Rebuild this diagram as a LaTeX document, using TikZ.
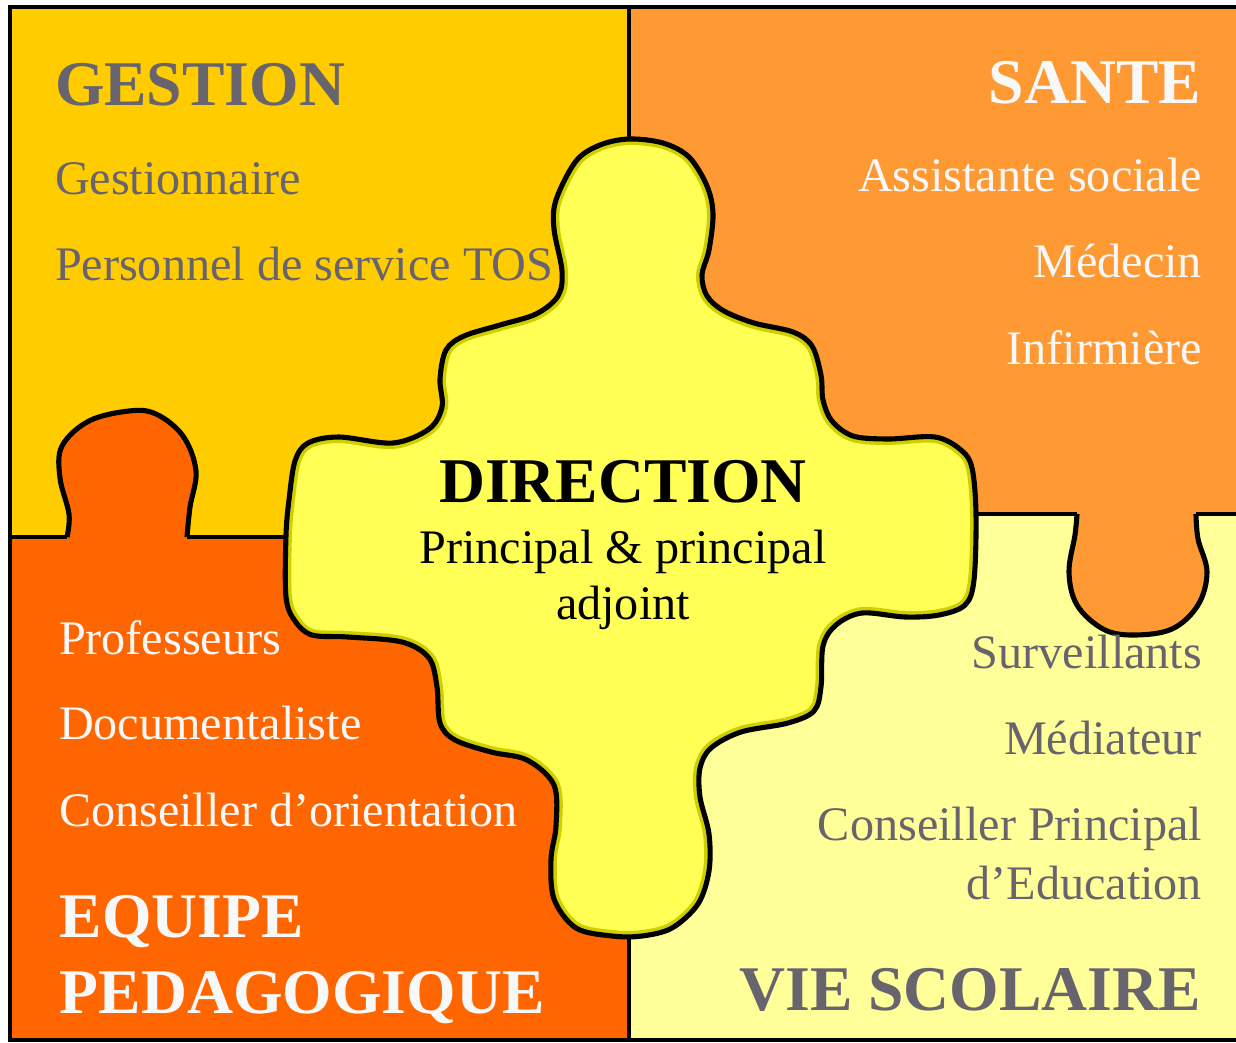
\documentclass[tikz,border=0pt]{standalone}
\usepackage{fontspec}
\setmainfont{Liberation Serif}
\definecolor{gestcol}{HTML}{FFCC00}
\definecolor{santecol}{HTML}{FF9933}
\definecolor{pedacol}{HTML}{FF6600}
\definecolor{viecol}{HTML}{FFFF99}
\definecolor{dircol}{HTML}{FFFF55}
\definecolor{dirshade}{HTML}{CFCF00}
\definecolor{greytext}{HTML}{67646E}
\definecolor{whitetext}{HTML}{F8F8F8}

\begin{document}
\begin{tikzpicture}
          [x=0.01cm,y=-0.01cm,every node/.style={inner sep=0pt,outer sep=0pt},
           title/.style={font=\fontsize{18.1}{20}\selectfont\bfseries},
           item/.style={font=\fontsize{13.7}{15}\selectfont},
           edge/.style={line width=1pt},
           piece/.style={line width=1.45pt}]

          \useasboundingbox (0,0) rectangle (1236,1042);
          \clip (0,0) rectangle (1236,1042);

          \fill[gestcol] (10,7) rectangle (629,537);
          \fill[santecol] (629,7) rectangle (1250,514);
          \fill[pedacol] (10,537) rectangle (629,1040);
          \fill[viecol] (629,514) rectangle (1250,1040);

          \filldraw[fill=pedacol,draw=black,piece] plot[smooth,tension=0.6] coordinates
            {(67,537) (69,514) (60,478) (62,446) (89,421) (129,411) (156,414) (183,436) (196,471) (190,507) (187,537)};
          \filldraw[fill=santecol,draw=black,piece] plot[smooth,tension=0.6] coordinates
            {(1077,514) (1075,535) (1069,572) (1077,605) (1103,629) (1133,635) (1172,629) (1198,605) (1207,572) (1198,539) (1196,514)};

          \draw[edge] (1250,7) -- (10,7) -- (10,1040) -- (1250,1040);
          \draw[edge] (629,7) -- (629,139);
          \draw[edge] (629,938) -- (629,1040);
          \draw[edge] (10,537) -- (67,537);
          \draw[edge] (187,537) -- (287,537);
          \draw[edge] (976,514) -- (1077,514);
          \draw[edge] (1196,514) -- (1250,514);

          \path[save path=\dirpath] plot[smooth cycle,tension=0.55] coordinates
            {(629,139) (663,143) (689,157) (707,186) (713,214) (709,250) (702,275) (707,296) (724,311)
             (754,323) (793,332) (812,346) (821,375) (823,400) (832,421) (853,436) (888,439) (935,437)
             (961,450) (972,468) (976,514) (974,580) (965,605) (939,615) (905,617) (862,613) (836,625)
             (823,646) (821,687) (814,711) (788,723) (741,732) (711,748) (700,768) (700,797) (709,834)
             (709,871) (698,904) (672,928) (642,936) (612,936) (576,928) (554,899) (551,859) (556,826)
             (554,785) (527,760) (491,752) (455,740) (440,723) (437,687) (429,658) (402,642) (348,637)
             (312,635) (295,621) (286,597) (286,535) (289,500) (295,461) (308,443) (339,437) (393,443)
             (429,429) (442,407) (440,379) (446,350) (464,336) (500,325) (536,314) (558,296) (562,271)
             (554,229) (556,200) (576,161) (600,145)};
          \fill[dircol,use path=\dirpath];
          \begin{scope}
            \clip[use path=\dirpath];
            \draw[dirshade,line width=3.4pt,use path=\dirpath];
          \end{scope}
          \draw[piece,use path=\dirpath];

          \node[title,text=greytext,anchor=base west] (gestion) at (55,105) {GESTION};
          \node[item,text=greytext,anchor=base west] (gestionnaire) at (55,194) {Gestionnaire};
          \node[item,text=greytext,anchor=base west] (tos) at (55,280) {Personnel de service TOS};

          \node[title,text=whitetext,anchor=base east] (sante) at (1201,103) {SANTE};
          \node[item,text=whitetext,anchor=base east] (assistante) at (1202,191) {Assistante sociale};
          \node[item,text=whitetext,anchor=base east] (medecin) at (1202,277) {Médecin};
          \node[item,text=whitetext,anchor=base east] (infirmiere) at (1202,364) {Infirmière};

          \node[title,anchor=base] (direction) at (623,502) {DIRECTION};
          \node[item,anchor=base] (principal) at (623,563) {Principal \& principal};
          \node[item,anchor=base] (adjoint) at (623,619) {adjoint};

          \node[item,text=whitetext,anchor=base west] (profs) at (59,654) {Professeurs};
          \node[item,text=whitetext,anchor=base west] (doc) at (59,739) {Documentaliste};
          \node[item,text=whitetext,anchor=base west] (copsy) at (59,826) {Conseiller d’orientation};
          \node[title,text=whitetext,anchor=base west] (equipe) at (60,937) {EQUIPE};
          \node[title,text=whitetext,anchor=base west] (peda) at (60,1013) {PEDAGOGIQUE};

          \node[item,text=greytext,anchor=base east] (surv) at (1202,668) {Surveillants};
          \node[item,text=greytext,anchor=base east] (mediateur) at (1202,754) {Médiateur};
          \node[item,text=greytext,anchor=base east] (cpe) at (1202,840) {Conseiller Principal};
          \node[item,text=greytext,anchor=base east] (educ) at (1202,899) {d’Education};
          \node[title,text=greytext,anchor=base east] (vie) at (1201,1010) {VIE SCOLAIRE};
        \end{tikzpicture}
\end{document}
